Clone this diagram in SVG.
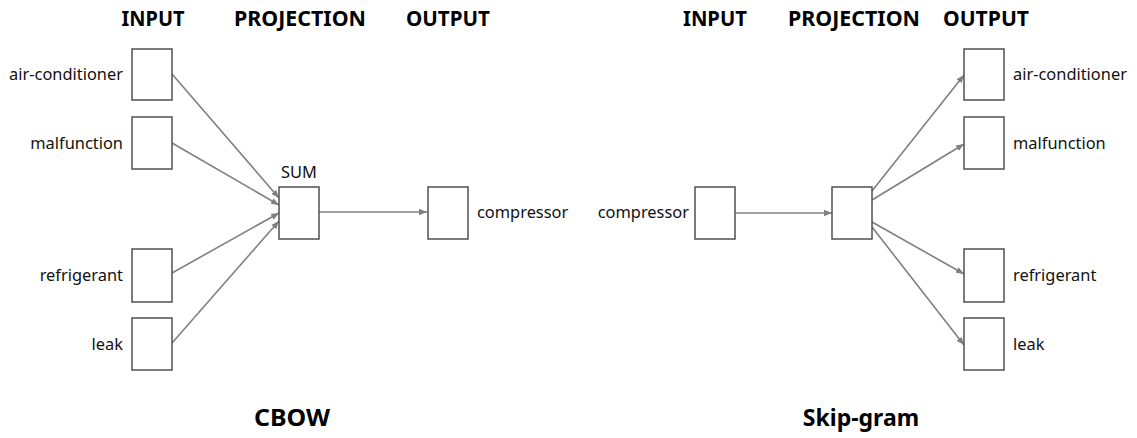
<svg xmlns="http://www.w3.org/2000/svg" width="1137" height="438" viewBox="0 0 1137 438">
<style>
.box{fill:#fff;stroke:#505050;stroke-width:1.5}
.lbl{font-family:"Noto Sans","Open Sans",sans-serif;font-size:16.4px;fill:#111}
.hdr{font-family:"Noto Sans","Open Sans",sans-serif;font-size:21px;font-weight:bold;fill:#000;text-anchor:middle}
.ttl{font-family:"Noto Sans","Open Sans",sans-serif;font-size:23px;font-weight:bold;fill:#000;text-anchor:middle}
.edge{stroke:#808080;stroke-width:1.6;fill:none;marker-end:url(#ah)}
</style>
<defs>
<marker id="ah" viewBox="0 0 10 10" refX="10" refY="5" markerWidth="5" markerHeight="5" orient="auto" markerUnits="strokeWidth">
<path d="M0,1 L10,5 L0,9 z" fill="#808080"/>
</marker>
</defs>
<rect width="1137" height="438" fill="#fff"/>
<g id="headers">
<text class="hdr" x="153" y="26" textLength="63" lengthAdjust="spacingAndGlyphs">INPUT</text>
<text class="hdr" x="300" y="26" textLength="132" lengthAdjust="spacingAndGlyphs">PROJECTION</text>
<text class="hdr" x="448" y="26" textLength="84" lengthAdjust="spacingAndGlyphs">OUTPUT</text>
<text class="hdr" x="715" y="26" textLength="64" lengthAdjust="spacingAndGlyphs">INPUT</text>
<text class="hdr" x="854" y="26" textLength="132" lengthAdjust="spacingAndGlyphs">PROJECTION</text>
<text class="hdr" x="986" y="26" textLength="86" lengthAdjust="spacingAndGlyphs">OUTPUT</text>
<text class="ttl" x="292" y="426" textLength="76" lengthAdjust="spacingAndGlyphs">CBOW</text>
<text class="ttl" x="861" y="426">Skip-gram</text>
</g>
<g id="connectors">
<line class="edge" x1="172" y1="74" x2="279" y2="198"/>
<line class="edge" x1="172" y1="143" x2="279" y2="205"/>
<line class="edge" x1="172" y1="273" x2="279" y2="213"/>
<line class="edge" x1="172" y1="343" x2="279" y2="221"/>
<line class="edge" x1="319" y1="212" x2="427" y2="212"/>
<line class="edge" x1="735" y1="213" x2="832" y2="213"/>
<line class="edge" x1="872" y1="191" x2="964" y2="75"/>
<line class="edge" x1="872" y1="200" x2="964" y2="144"/>
<line class="edge" x1="872" y1="222" x2="964" y2="274"/>
<line class="edge" x1="872" y1="227" x2="964" y2="345"/>
</g>
<g id="cbow-in-airconditioner"><rect class="box" x="132" y="49" width="40" height="51"/><text class="lbl" x="123" y="80" text-anchor="end">air-conditioner</text></g>
<g id="cbow-in-malfunction"><rect class="box" x="132" y="117" width="40" height="52"/><text class="lbl" x="123" y="149" text-anchor="end">malfunction</text></g>
<g id="cbow-in-refrigerant"><rect class="box" x="132" y="249" width="40" height="53"/><text class="lbl" x="123" y="281" text-anchor="end">refrigerant</text></g>
<g id="cbow-in-leak"><rect class="box" x="132" y="318" width="40" height="52"/><text class="lbl" x="123" y="350" text-anchor="end">leak</text></g>
<g id="cbow-sum"><rect class="box" x="279" y="187" width="40" height="52"/><text class="lbl" x="299" y="178" text-anchor="middle">SUM</text></g>
<g id="cbow-out-compressor"><rect class="box" x="428" y="187" width="40" height="52"/><text class="lbl" x="477" y="218">compressor</text></g>
<g id="sg-in-compressor"><rect class="box" x="695" y="187" width="40" height="52"/><text class="lbl" x="689" y="218" text-anchor="end">compressor</text></g>
<g id="sg-projection"><rect class="box" x="832" y="187" width="40" height="52"/></g>
<g id="sg-out-airconditioner"><rect class="box" x="964" y="49" width="40" height="51"/><text class="lbl" x="1013" y="80">air-conditioner</text></g>
<g id="sg-out-malfunction"><rect class="box" x="964" y="117" width="40" height="52"/><text class="lbl" x="1013" y="149">malfunction</text></g>
<g id="sg-out-refrigerant"><rect class="box" x="964" y="249" width="40" height="53"/><text class="lbl" x="1013" y="281">refrigerant</text></g>
<g id="sg-out-leak"><rect class="box" x="964" y="318" width="40" height="52"/><text class="lbl" x="1013" y="350">leak</text></g>
</svg>
